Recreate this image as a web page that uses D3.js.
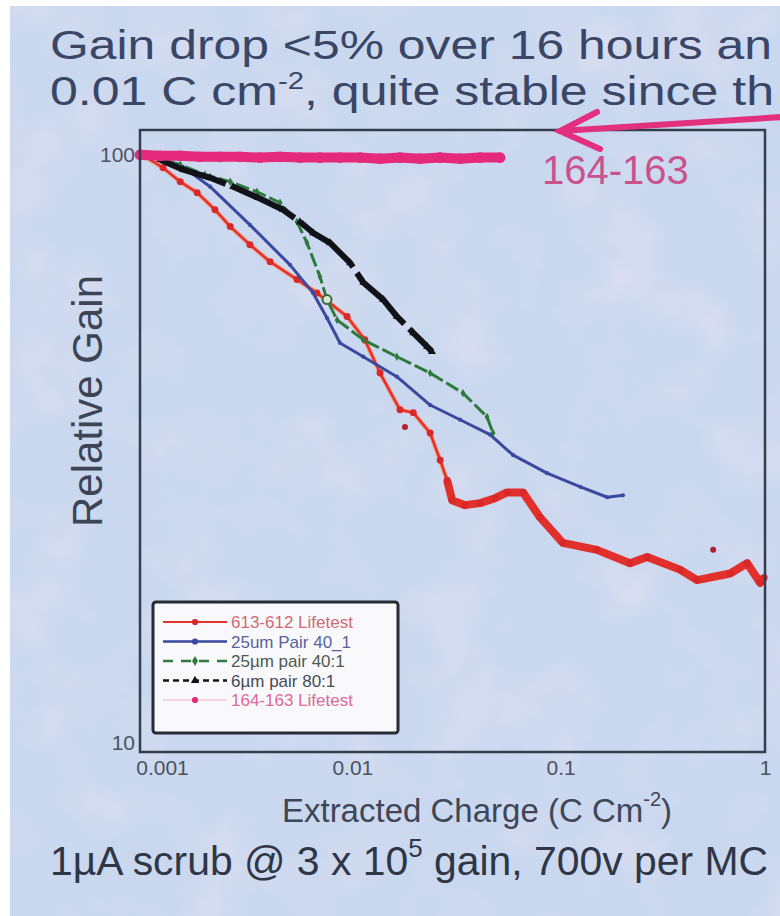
<!DOCTYPE html>
<html>
<head>
<meta charset="utf-8">
<script src="https://cdn.jsdelivr.net/npm/d3@7"></script>
<style>
  body { margin: 0; background: #fff; }
  svg { display: block; font-family: "Liberation Sans", Arial, sans-serif; }
</style>
</head>
<body>
<svg id="chart"></svg>
<script>
// values, x = extracted charge (C cm^-2), y = relative gain
const redX = [0.00106, 0.00129, 0.00156, 0.00188, 0.00229, 0.00271, 0.00337, 0.00421, 0.00567, 0.00707,
              0.00986, 0.0120, 0.0142, 0.0177, 0.0205, 0.0247, 0.0276, 0.0298, 0.0315, 0.0363,
              0.0429, 0.0506, 0.0578, 0.0690, 0.0832, 0.107, 0.156, 0.225, 0.272, 0.391,
              0.472, 0.680, 0.821, 0.947, 0.99];
const redY = [99.2, 95.1, 90.1, 86.4, 80.9, 75.8, 70.7, 66.2, 61.8, 58.7,
              53.6, 49.0, 43.1, 37.4, 37.0, 34.2, 30.8, 28.5, 26.4, 25.9,
              26.1, 26.6, 27.2, 27.2, 24.7, 22.4, 21.8, 20.7, 21.2, 20.2,
              19.4, 19.9, 20.7, 19.2, 19.6];
const redStrayX = [0.0187, 0.564];
const redStrayY = [35.0, 21.8];

const blueX = [0.00112, 0.00156, 0.00217, 0.00337, 0.00525, 0.00677, 0.00790, 0.00912, 0.0118,
               0.0171, 0.0247, 0.0344, 0.0479, 0.0618, 0.0899, 0.130, 0.175, 0.208];
const blueY = [99.2, 96.2, 88.4, 76.3, 65.4, 58.7, 53.3, 48.4, 45.9,
               42.5, 38.1, 36.0, 34.0, 31.4, 29.3, 27.8, 26.7, 26.9];

const greenX = [0.00112, 0.00156, 0.00205, 0.00271, 0.00364, 0.00470, 0.00567, 0.00633, 0.00731,
                0.00790, 0.00883, 0.0118, 0.0171, 0.0247, 0.0355, 0.0463, 0.0495];
const greenY = [99.2, 96.2, 92.6, 90.1, 86.7, 83.1, 77.2, 71.2, 62.5,
                57.2, 52.9, 49.0, 45.9, 43.1, 39.9, 36.4, 34.2];

const blackX = [0.00125, 0.00161, 0.00217, 0.00280, 0.00369, 0.00486, 0.00586, 0.00677, 0.00817,
                0.0102, 0.0118, 0.0147, 0.0171, 0.0205, 0.0239, 0.0252];
const blackY = [98.1, 94.4, 91.5, 88.4, 84.7, 80.9, 77.2, 74.0, 71.2,
                65.9, 61.1, 57.2, 53.6, 50.3, 47.7, 46.8];

const pinkX = [0.00100, 0.00125, 0.00156, 0.00194, 0.00242, 0.00302, 0.00377, 0.00470, 0.00586, 0.00731,
               0.00912, 0.0114, 0.0142, 0.0177, 0.0221, 0.0275, 0.0344, 0.0429, 0.0535];
const pinkY = [100, 99.6, 99.6, 99.2, 99.2, 99.2, 98.9, 99.2, 98.9, 98.9,
               98.9, 98.9, 98.5, 98.9, 98.5, 98.9, 98.5, 98.9, 98.9];

const xTicks = [0.001, 0.01, 0.1, 1];
const xTickLabels = ['0.001', '0.01', '0.1', '1'];
const yTicks = [10, 100];
const yTickLabels = ['10', '100'];

const legendLabels = ['613-612 Lifetest', '25um Pair 40_1', '25\u00b5m pair 40:1', '6\u00b5m pair 80:1', '164-163 Lifetest'];

const zip = (xs, ys) => xs.map((x, i) => ({x: x, y: ys[i]}));

class GainPlot {
    constructor(_config, _series) {
        this.config = {
            parentElement: _config.parentElement,
            width: _config.containerWidth || 780,
            height: _config.containerHeight || 916,
            plot: {left: 140, top: 130, right: 765, bottom: 752}
        };
        this.series = _series;
        this.initVis();
    }

    initVis() {
        let vis = this;

        vis.svg = d3.select(vis.config.parentElement)
            .attr('width', vis.config.width)
            .attr('height', vis.config.height);

        // photographed slide background, slightly mottled
        const defs = vis.svg.append('defs');
        const f = defs.append('filter').attr('id', 'mottle')
            .attr('x', 0).attr('y', 0).attr('width', '100%').attr('height', '100%');
        f.append('feTurbulence').attr('type', 'fractalNoise')
            .attr('baseFrequency', 0.012).attr('numOctaves', 3).attr('seed', 7);
        f.append('feColorMatrix').attr('type', 'matrix')
            .attr('values', '0 0 0 0 0.92  0 0 0 0 0.78  0 0 0 0 0.88  1.4 0 0 0 -0.62');

        vis.svg.append('rect').attr('width', vis.config.width).attr('height', vis.config.height).attr('fill', '#fff');
        vis.svg.append('rect').attr('x', 10).attr('y', 6)
            .attr('width', vis.config.width - 10).attr('height', vis.config.height - 6)
            .attr('fill', '#c9d8ef');
        vis.svg.append('rect').attr('x', 10).attr('y', 6)
            .attr('width', vis.config.width - 10).attr('height', vis.config.height - 6)
            .attr('filter', 'url(#mottle)').attr('opacity', 0.6);

        vis.xScale = d3.scaleLog().domain([0.001, 1]).range([vis.config.plot.left, vis.config.plot.right]);
        vis.yScale = d3.scaleLog().domain([10, 110]).range([vis.config.plot.bottom, vis.config.plot.top]);

        vis.xAxis = d3.axisBottom(vis.xScale)
            .tickValues(xTicks)
            .tickFormat((d, i) => xTickLabels[i])
            .tickSize(0).tickPadding(8);
        vis.yAxis = d3.axisLeft(vis.yScale)
            .tickValues(yTicks)
            .tickFormat((d, i) => yTickLabels[i])
            .tickSize(0).tickPadding(5);

        vis.plotG = vis.svg.append('g');
        vis.legendG = vis.svg.append('g');

        vis.renderVis();
    }

    renderVis() {
        let vis = this;
        const p = vis.config.plot;

        const line = d3.line().x(d => vis.xScale(d.x)).y(d => vis.yScale(d.y));

        vis.series.forEach(s => {
            if (s.under) {
                vis.plotG.append('path').datum(s.values)
                    .attr('fill', 'none').attr('stroke', s.under)
                    .attr('stroke-width', s.width + 2).attr('stroke-linejoin', 'round')
                    .attr('d', line);
            }
            vis.plotG.append('path').datum(s.values)
                .attr('class', 'series-line')
                .attr('fill', 'none')
                .attr('stroke', s.color)
                .attr('stroke-width', s.width)
                .attr('stroke-dasharray', s.dash || null)
                .attr('stroke-linejoin', 'round')
                .attr('d', line);
            if (s.thick) {
                // dense sampling at high charge makes the trace look fat
                vis.plotG.append('path').datum(s.values.filter(d => d.x >= s.thick))
                    .attr('fill', 'none').attr('stroke', s.color)
                    .attr('stroke-width', 8).attr('stroke-linejoin', 'round')
                    .attr('d', line);
            }
            vis.drawMarkers(vis.plotG, s.values, s);
        });

        // hollow marker on the green run
        vis.plotG.append('circle')
            .attr('cx', vis.xScale(greenX[9])).attr('cy', vis.yScale(greenY[9]))
            .attr('r', 4.5).attr('fill', '#d8e6d8').attr('stroke', '#3a6a44').attr('stroke-width', 2);

        // frame
        vis.svg.append('rect')
            .attr('x', p.left).attr('y', p.top)
            .attr('width', p.right - p.left).attr('height', p.bottom - p.top)
            .attr('fill', 'none').attr('stroke', '#353c4c').attr('stroke-width', 2.5);

        const xAxisG = vis.svg.append('g')
            .attr('transform', `translate(0,${p.bottom})`)
            .call(vis.xAxis);
        const yAxisG = vis.svg.append('g')
            .attr('transform', `translate(${p.left},0)`)
            .call(vis.yAxis);
        [xAxisG, yAxisG].forEach(g => {
            g.select('.domain').remove();
            g.selectAll('text').attr('font-size', 21)
                .attr('font-family', '"Liberation Sans", Arial, sans-serif')
                .attr('fill', '#4b5262');
        });
        xAxisG.selectAll('.tick text').attr('dx', (d, i) => i === 0 ? 22 : (i === 3 ? 0 : 4));
        yAxisG.selectAll('.tick text').attr('dy', (d, i) => i === 0 ? '-0.1em' : '0.3em');

        vis.renderLegend();
        vis.renderText();
    }

    drawMarkers(g, values, s) {
        const vis = this;
        if (!s.marker) return;
        const sym = d3.symbol().type(s.marker).size(s.markerSize);
        g.append('g').selectAll('path')
            .data(values)
            .join('path')
            .attr('transform', d => `translate(${vis.xScale(d.x)},${vis.yScale(d.y)})`)
            .attr('d', sym)
            .attr('fill', s.markerColor || s.color);
    }

    renderLegend() {
        let vis = this;
        const lg = vis.legendG;
        lg.append('rect')
            .attr('x', 153).attr('y', 602).attr('width', 245).attr('height', 131).attr('rx', 3)
            .attr('fill', '#f9f9fb').attr('stroke', '#262b36').attr('stroke-width', 3);

        const entries = lg.selectAll('.legend-entry')
            .data(vis.series.map((s, i) => ({s: s, label: legendLabels[i]})))
            .join('g')
            .attr('class', 'legend-entry')
            .attr('transform', (d, i) => `translate(0,${622 + i * 19.5})`);

        entries.append('line')
            .attr('x1', 163).attr('x2', 227)
            .attr('stroke', d => d.s.legendLine || d.s.color)
            .attr('stroke-width', d => d.s.legendWidth)
            .attr('stroke-dasharray', d => d.s.legendDash || null);
        entries.append('path')
            .attr('transform', 'translate(195,0)')
            .attr('d', d => d3.symbol().type(d.s.marker).size(30)())
            .attr('fill', d => d.s.markerColor || d.s.color);
        entries.append('text')
            .attr('x', 231).attr('y', 6)
            .attr('font-size', 17)
            .attr('fill', d => d.s.legendText)
            .text(d => d.label);
    }

    renderText() {
        let vis = this;
        const title = vis.svg.append('g').attr('fill', '#3a4666').attr('font-size', 41);
        title.append('text').attr('x', 50).attr('y', 59)
            .attr('textLength', 722).attr('lengthAdjust', 'spacingAndGlyphs')
            .text('Gain drop <5% over 16 hours an');
        const t2 = title.append('text').attr('x', 50).attr('y', 105)
            .attr('textLength', 724).attr('lengthAdjust', 'spacingAndGlyphs');
        t2.append('tspan').text('0.01 C cm');
        t2.append('tspan').attr('font-size', 24).attr('dy', -16).text('-2');
        t2.append('tspan').attr('dy', 16).text(', quite stable since th');

        // pink arrow pointing at the 164-163 trace
        const arrow = vis.svg.append('g').attr('stroke', '#e2307e').attr('stroke-width', 6)
            .attr('stroke-linecap', 'round').attr('fill', 'none');
        arrow.append('path').attr('d', 'M782,117 L560,131');
        arrow.append('path').attr('d', 'M597,112 L560,131 L600,149');

        vis.svg.append('text')
            .attr('x', 542).attr('y', 184)
            .attr('font-size', 40).attr('fill', '#c9538f')
            .text('164-163');

        vis.svg.append('text')
            .attr('transform', 'translate(102,401) rotate(-90)')
            .attr('text-anchor', 'middle')
            .attr('font-size', 42).attr('fill', '#3c4456')
            .text('Relative Gain');

        const xl = vis.svg.append('text')
            .attr('x', 477).attr('y', 822)
            .attr('text-anchor', 'middle')
            .attr('font-size', 33).attr('fill', '#3f4656');
        xl.append('tspan').text('Extracted Charge (C Cm');
        xl.append('tspan').attr('font-size', 20).attr('dy', -16).text('-2');
        xl.append('tspan').attr('dy', 16).text(')');

        const sub = vis.svg.append('text')
            .attr('x', 50).attr('y', 875)
            .attr('font-size', 41).attr('fill', '#2f3646')
            .attr('textLength', 718).attr('lengthAdjust', 'spacingAndGlyphs');
        sub.append('tspan').text('1\u00b5A scrub @ 3 x 10');
        sub.append('tspan').attr('font-size', 26).attr('dy', -18).text('5');
        sub.append('tspan').attr('dy', 18).text(' gain, 700v per MC');
    }
}

const series = [
    {values: zip(redX, redY), color: '#e2302c', width: 2.5, marker: d3.symbolCircle, markerSize: 38,
     markerColor: '#d8282a', under: '#f4a088', thick: 0.029,
     legendWidth: 2, legendText: '#cf6a72'},
    {values: zip(blueX, blueY), color: '#3949a0', width: 3, marker: d3.symbolCircle, markerSize: 14,
     legendWidth: 2.5, legendText: '#56639e'},
    {values: zip(greenX, greenY), color: '#2d7a3e', width: 3, dash: '14,4', marker: d3.symbolDiamond, markerSize: 20,
     legendWidth: 2.5, legendDash: '10,8', legendText: '#4b5a52'},
    {values: zip(blackX, blackY), color: '#111318', width: 6, dash: '70,7', marker: d3.symbolTriangle, markerSize: 28,
     legendWidth: 2.5, legendDash: '6,4', legendText: '#474b58'},
    {values: zip(pinkX, pinkY), color: '#e52a7c', width: 10, marker: d3.symbolCircle, markerSize: 90,
     legendLine: '#f0b0c8', legendWidth: 1, legendText: '#db6a9c'}
];

// stray red readings
series[0].strays = zip(redStrayX, redStrayY);

const plot = new GainPlot({parentElement: '#chart'}, series);
plot.plotG.append('g').selectAll('circle')
    .data(series[0].strays)
    .join('circle')
    .attr('cx', d => plot.xScale(d.x)).attr('cy', d => plot.yScale(d.y))
    .attr('r', 3).attr('fill', '#b02030');
</script>
</body>
</html>
